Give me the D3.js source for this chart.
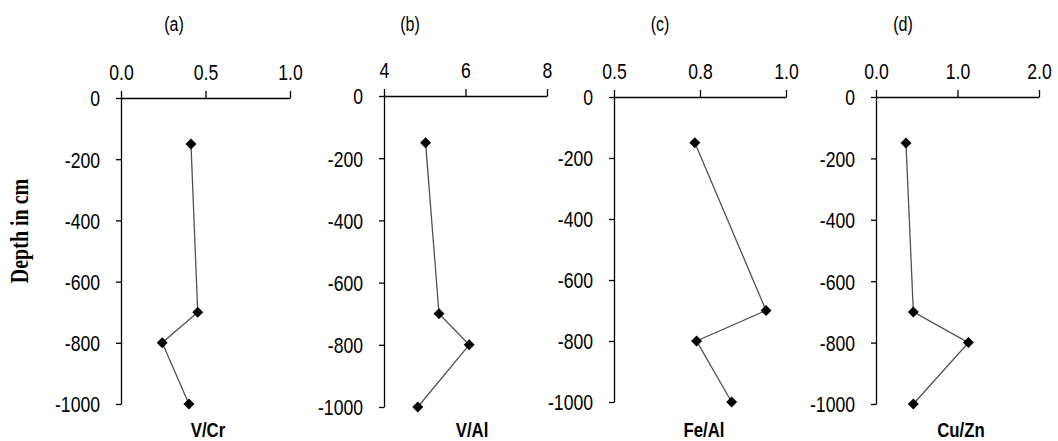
<!DOCTYPE html>
<html>
<head>
<meta charset="utf-8">
<script src="https://cdn.jsdelivr.net/npm/d3@7"></script>
<style>
  html, body { margin: 0; padding: 0; background: #fff; }
  svg { display: block; }
  .tick text { font-family: "Liberation Sans", Arial, sans-serif; font-size: 21px; fill: #000; }
</style>
</head>
<body>
<svg id="chart" width="1058" height="441"></svg>
<script>
// Sampling depths (cm) shared by all four profiles
const depths = [-150, -700, -800, -1000];

// Element ratios at each depth
const ratioVCr  = [0.414, 0.454, 0.244, 0.402];
const ratioVAl  = [5.02, 5.35, 6.09, 4.83];
const ratioFeAl = [0.735, 0.942, 0.740, 0.842];
const ratioCuZn = [0.368, 0.458, 1.134, 0.458];

// Panel captions and ratio names
const panelLetters = ["(a)", "(b)", "(c)", "(d)"];
const ratioNames = ["V/Cr", "V/Al", "Fe/Al", "Cu/Zn"];

// Top-axis ranges and tick values
const xDomains = [[0, 1], [4, 8], [0.5, 1], [0, 2]];
const xTicks = [[0, 0.5, 1.0], [4, 6, 8], [0.5, 0.75, 1.0], [0, 1.0, 2.0]];
const xTickFormats = [".1f", "d", ".1f", ".1f"];

// Depth axis ticks
const depthTicks = [0, -200, -400, -600, -800, -1000];

const series = [ratioVCr, ratioVAl, ratioFeAl, ratioCuZn];

// Plot frame for each panel (px): axes box plus caption positions
const frames = [
  { left: 121, right: 290, top: 98, bottom: 404, titleX: 174, nameX: 208 },
  { left: 384, right: 547, top: 96, bottom: 407, titleX: 410, nameX: 472 },
  { left: 614, right: 786, top: 97, bottom: 402, titleX: 660, nameX: 704 },
  { left: 876, right: 1039, top: 97, bottom: 404, titleX: 903, nameX: 961 }
];

// Horizontal squeeze applied to all lettering (narrow face)
const squeeze = 0.8;

const svg = d3.select("#chart");

// Vertical axis title
svg.append("text")
  .attr("transform", "translate(28,231) rotate(-90) scale(1,1.25)")
  .attr("text-anchor", "middle")
  .style("font-family", "'Liberation Serif', 'Times New Roman', serif")
  .style("font-weight", "bold")
  .style("font-size", "20px")
  .text("Depth in cm");

// Places a squeezed text centred on (cx, y)
function narrowText(parent, cx, y, str, size, weight) {
  return parent.append("text")
    .attr("transform", `translate(${cx},${y}) scale(${squeeze},1)`)
    .attr("text-anchor", "middle")
    .style("font-family", "'Liberation Sans', Arial, sans-serif")
    .style("font-size", size + "px")
    .style("font-weight", weight)
    .text(str);
}

series.forEach((vals, i) => {
  const f = frames[i];
  const x = d3.scaleLinear().domain(xDomains[i]).range([f.left, f.right]);
  const y = d3.scaleLinear().domain([0, -1000]).range([f.top, f.bottom]);
  const g = svg.append("g");

  // Panel letter
  narrowText(g, f.titleX, 31, panelLetters[i], 20, "normal");

  // Top ratio axis
  const xAxis = g.append("g")
    .attr("transform", `translate(0,${f.top})`)
    .call(d3.axisTop(x)
      .tickValues(xTicks[i])
      .tickFormat(d3.format(xTickFormats[i]))
      .tickSize(7)
      .tickSizeOuter(0)
      .tickPadding(11));

  // Left depth axis (plain hyphen for negatives)
  const yAxis = g.append("g")
    .attr("transform", `translate(${f.left},0)`)
    .call(d3.axisLeft(y)
      .tickValues(depthTicks)
      .tickFormat(d => String(d))
      .tickSize(5)
      .tickSizeOuter(0)
      .tickPadding(16));

  [xAxis, yAxis].forEach(a => {
    a.select(".domain").attr("stroke", "#000").attr("stroke-width", 1.3);
    a.selectAll(".tick line").attr("stroke", "#000").attr("stroke-width", 1.3);
  });
  xAxis.selectAll(".tick text")
    .attr("transform", `scale(${squeeze},1)`)
    .style("font-size", "22px");
  yAxis.selectAll(".tick text")
    .attr("dy", "0.36em")
    .attr("x", -21 / squeeze)
    .attr("transform", `scale(${squeeze},1)`)
    .style("font-size", "22px");

  const pts = depths.map((d, k) => [vals[k], d]);

  // Profile line
  g.append("path")
    .datum(pts)
    .attr("fill", "none")
    .attr("stroke", "#505050")
    .attr("stroke-width", 1.3)
    .attr("d", d3.line().x(p => x(p[0])).y(p => y(p[1])));

  // Diamond markers
  g.selectAll("path.mark")
    .data(pts)
    .join("path")
    .attr("class", "mark")
    .attr("d", d3.symbol(d3.symbolSquare, 60)())
    .attr("transform", p => `translate(${x(p[0])},${y(p[1])}) rotate(45)`)
    .attr("fill", "#000");

  // Ratio name under the panel
  narrowText(g, f.nameX, 437, ratioNames[i], 21, "bold");
});
</script>
</body>
</html>
